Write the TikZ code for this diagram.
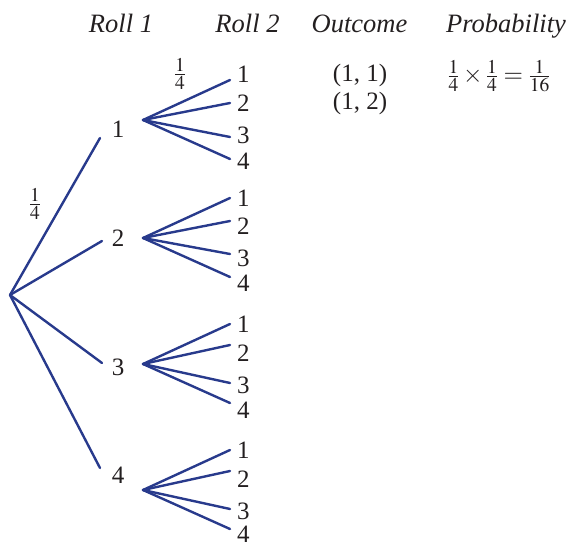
\documentclass[tikz,border=0pt]{standalone}
\usepackage{mathptmx}
\usepackage[no-math]{fontspec}
\setmainfont{Liberation Serif}
\DeclareMathSizes{25}{25}{19.5}{14}
\definecolor{treeblue}{RGB}{40,58,140}
\definecolor{ink}{RGB}{35,31,32}
\newcommand{\lblfont}{\fontsize{25}{29}\selectfont}
\newcommand{\hdfont}{\fontsize{26.5}{30}\selectfont\itshape}
\begin{document}
\begin{tikzpicture}[x=1pt,y=-1pt,
  branch/.style={draw=treeblue,line width=2.4pt,line cap=round},
  lbl/.style={text=ink,font=\lblfont,inner sep=0pt,anchor=base},
  leaf/.style={text=ink,font=\lblfont,inner sep=0pt,anchor=base west},
  head/.style={text=ink,font=\hdfont,inner sep=0pt,anchor=base},
  frac/.style={text=ink,font=\lblfont,inner sep=0pt}]
\useasboundingbox (0,0) rectangle (568,545);
% headers
\node[head] (h1) at (121,33) {Roll 1};
\node[head] (h2) at (247.5,33) {Roll 2};
\node[head] (h3) at (359.5,33) {Outcome};
\node[head] (h4) at (506,33) {Probability};
% root
\coordinate (root) at (10,295);
% level 1 ends
\coordinate (e1) at (100,138);
\coordinate (e2) at (102,241);
\coordinate (e3) at (102,363);
\coordinate (e4) at (100,468);
\node[lbl] (n1) at (118,138) {1};
\node[lbl] (n2) at (118,247) {2};
\node[lbl] (n3) at (118,376) {3};
\node[lbl] (n4) at (118,483) {4};
\foreach \i in {1,2,3,4} \draw[branch] (root) -- (e\i);
\node[frac] (f1) at (35,204) {$\frac{1}{4}$};
% level 2 starts
\coordinate (s1) at (143,120);
\coordinate (s2) at (143,238);
\coordinate (s3) at (143,364);
\coordinate (s4) at (143,490);
% level 2 ends
\coordinate (t11) at (230,80);  \coordinate (t12) at (230,103);
\coordinate (t13) at (230,137); \coordinate (t14) at (230,159);
\coordinate (t21) at (230,198); \coordinate (t22) at (230,221);
\coordinate (t23) at (230,254); \coordinate (t24) at (230,277);
\coordinate (t31) at (230,324); \coordinate (t32) at (230,345);
\coordinate (t33) at (230,383); \coordinate (t34) at (230,403);
\coordinate (t41) at (230,450); \coordinate (t42) at (230,471);
\coordinate (t43) at (230,509); \coordinate (t44) at (230,529);
\foreach \g in {1,2,3,4} \foreach \k in {1,2,3,4} \draw[branch] (s\g) -- (t\g\k);
% leaf labels
\node[leaf] (l11) at (237,83) {1};  \node[leaf] (l12) at (237,112) {2};
\node[leaf] (l13) at (237,144) {3}; \node[leaf] (l14) at (237,170) {4};
\node[leaf] (l21) at (237,207) {1}; \node[leaf] (l22) at (237,235) {2};
\node[leaf] (l23) at (237,267) {3}; \node[leaf] (l24) at (237,292) {4};
\node[leaf] (l31) at (237,333) {1}; \node[leaf] (l32) at (237,362) {2};
\node[leaf] (l33) at (237,394) {3}; \node[leaf] (l34) at (237,418) {4};
\node[leaf] (l41) at (237,458) {1}; \node[leaf] (l42) at (237,487) {2};
\node[leaf] (l43) at (237,519) {3}; \node[leaf] (l44) at (237,542) {4};
\node[frac] (f2) at (180,74) {$\frac{1}{4}$};
% outcomes
\node[lbl] (o1) at (360,82) {(1, 1)};
\node[lbl] (o2) at (360,110) {(1, 2)};
% probability
\node[frac] (p1) at (499,76) {$\frac{1}{4}\times\frac{1}{4} = \frac{1}{16}$};
\end{tikzpicture}
\end{document}
